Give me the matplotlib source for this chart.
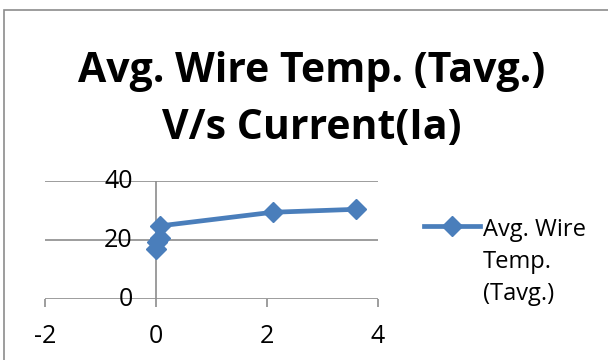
import matplotlib
matplotlib.use("Agg")
import matplotlib.pyplot as plt
from matplotlib.patches import Rectangle
from matplotlib.lines import Line2D

# 数据
current = [0.0, 0.02, 0.07, 0.08, 2.1, 3.6]
temp = [16.8, 19.2, 20.8, 24.8, 29.4, 30.4]
series_name = "Avg. Wire\nTemp.\n(Tavg.)"
title = "Avg. Wire Temp. (Tavg.)\nV/s Current(Ia)"
xticks = [-2, 0, 2, 4]
yticks = [0, 20, 40]

plt.rcParams['font.family'] = ['Open Sans', 'DejaVu Sans']
blue = "#4A7EBB"
grey = "#8C8C8C"

fig = plt.figure(figsize=(6.08, 3.6), dpi=100)
# 外框
fig.patches.append(Rectangle((4 / 608, -0.1), 1.2, 1 - 10 / 360 + 0.1,
                             transform=fig.transFigure, fill=False,
                             edgecolor=grey, linewidth=1.2))

fig.text(312 / 608, 1 - 100 / 360, title, ha="center", va="center",
         fontsize=29.5, fontweight="bold", linespacing=1.5)

ax = fig.add_axes([45 / 608, 1 - 299 / 360, 333 / 608, 118 / 360])
ax.set_xlim(-2, 4)
ax.set_ylim(0, 40)
for s in ax.spines.values():
    s.set_visible(False)
for y in yticks:
    ax.axhline(y, color=grey, linewidth=1.2, zorder=0)
ax.axvline(0, color=grey, linewidth=1.2, zorder=0)

ax.set_xticks(xticks)
ax.set_xticklabels([str(v) for v in xticks], fontsize=18)
ax.tick_params(axis="x", direction="out", length=6, width=1.2, color=grey, pad=12)
ax.set_yticks([])
for y in yticks:
    ax.text(-0.42, y, str(y), ha="right", va="center", fontsize=18)

ax.plot(current, temp, color=blue, linewidth=3.4, marker="D", markersize=10.5,
        clip_on=False)

# 图例
ly = 1 - 226 / 360
fig.add_artist(Line2D([424 / 608, 480 / 608], [ly, ly],
                      transform=fig.transFigure, color=blue, linewidth=3.4))
fig.add_artist(Line2D([452 / 608], [ly], transform=fig.transFigure,
                      color=blue, marker="D", markersize=10.5))
fig.text(483 / 608, 1 - 218 / 360, series_name, ha="left", va="top",
         fontsize=17, linespacing=1.45)

fig.savefig("out.png", dpi=100)
